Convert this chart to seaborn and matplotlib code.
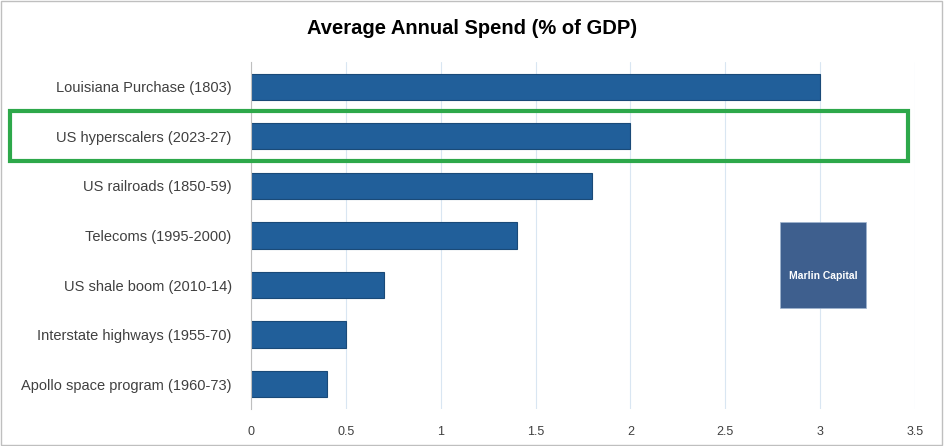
import matplotlib
matplotlib.use("Agg")
import matplotlib.pyplot as plt
import seaborn as sns
import pandas as pd
from matplotlib.patches import Rectangle

projects = ["Louisiana Purchase (1803)", "US hyperscalers (2023-27)", "US railroads (1850-59)",
            "Telecoms (1995-2000)", "US shale boom (2010-14)", "Interstate highways (1955-70)",
            "Apollo space program (1960-73)"]
spend = [3.0, 2.0, 1.8, 1.4, 0.7, 0.5, 0.4]
ticks = [0, 0.5, 1, 1.5, 2, 2.5, 3, 3.5]
tick_labels = ["0", "0.5", "1", "1.5", "2", "2.5", "3", "3.5"]

df = pd.DataFrame({"Project": projects, "Spend": spend})

sns.set_style("white")
plt.rcParams["font.family"] = ["Liberation Sans", "DejaVu Sans"]

fig = plt.figure(figsize=(9.44, 4.46), dpi=100)
ax = fig.add_axes([0.266, 0.083, 0.703, 0.778])
sns.barplot(data=df, y="Project", x="Spend", color="#215F9A", edgecolor="#1A4A78",
            linewidth=0.8, width=0.53, saturation=1, ax=ax)
ax.set_xlim(0, 3.5)
ax.set_xticks(ticks)
ax.set_xticklabels(tick_labels, fontsize=9, color="#404040")
ax.set_xlabel("")
ax.set_ylabel("")
ax.tick_params(axis="y", labelsize=10.5, colors="#404040", length=0, pad=14)
ax.tick_params(axis="x", length=0, pad=12)
ax.grid(axis="x", color="#D9E6F2", linewidth=0.8)
ax.set_axisbelow(True)
for s in ["top", "right", "bottom"]:
    ax.spines[s].set_visible(False)
ax.spines["left"].set_color("#BFBFBF")

fig.text(0.5, 0.935, "Average Annual Spend (% of GDP)", ha="center", va="center",
         fontsize=14.5, fontweight="bold", color="#000000")

# highlight box
fig.patches.append(Rectangle((10/944, 1-161/446), 898/944, 50/446, transform=fig.transFigure,
                             fill=False, edgecolor="#2DA84A", linewidth=3))
# logo placeholder
fig.patches.append(Rectangle((780/944, 1-308/446), 86/944, 86/446, transform=fig.transFigure,
                             facecolor="#3E5F8E", edgecolor="#9FB4CF", linewidth=0.5))
fig.text(823/944, 1-276/446, "Marlin Capital", ha="center", va="center", fontsize=7.5,
         fontweight="bold", color="white")
# outer border
fig.patches.append(Rectangle((0.001, 0.002), 0.997, 0.996, transform=fig.transFigure,
                             fill=False, edgecolor="#BFBFBF", linewidth=1))

fig.savefig("out.png", dpi=100)
